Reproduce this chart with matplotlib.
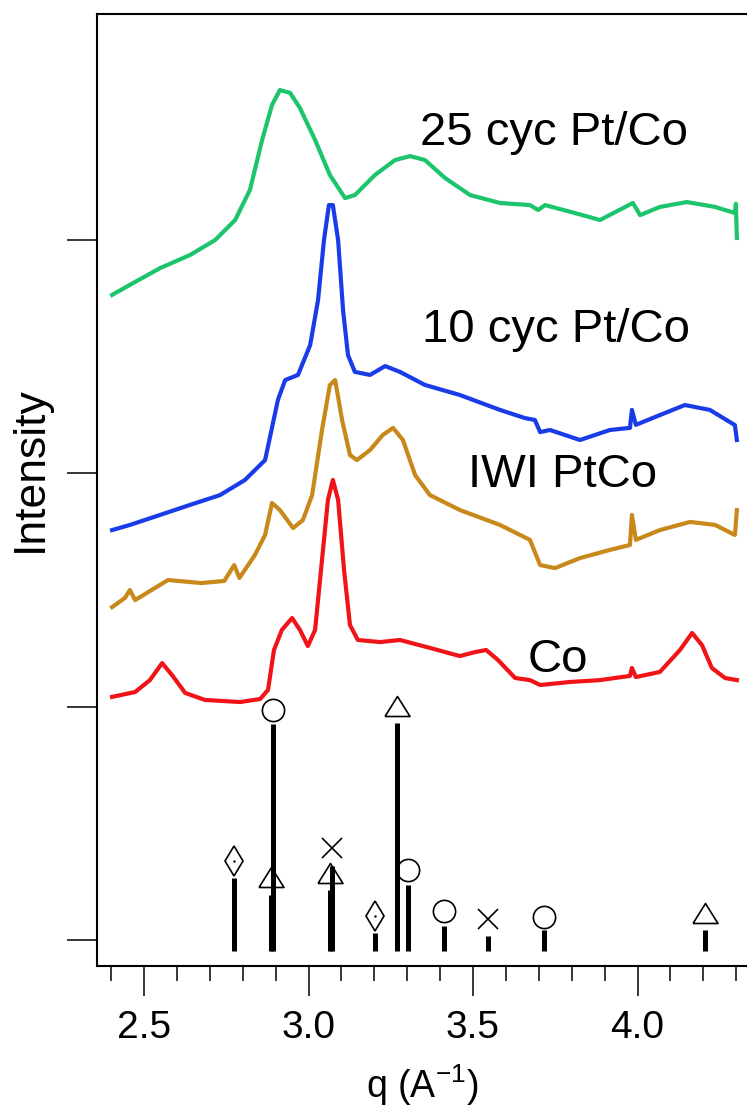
import matplotlib
matplotlib.use("Agg")
import matplotlib.pyplot as plt
from matplotlib.ticker import MultipleLocator, FormatStrFormatter

plt.rcParams['font.family'] = ['Liberation Sans', 'DejaVu Sans']
plt.rcParams['mathtext.fontset'] = 'custom'
plt.rcParams['mathtext.rm'] = 'Liberation Sans'
plt.rcParams['mathtext.it'] = 'Liberation Sans:italic'

# Diffraction curves (q in 1/A, intensity in offset units)
q_25 = [2.403, 2.457, 2.549, 2.640, 2.716, 2.777, 2.822, 2.859, 2.889, 2.913,
        2.944, 2.974, 3.020, 3.065, 3.111, 3.141, 3.202, 3.263, 3.309, 3.354,
        3.415, 3.491, 3.582, 3.673, 3.698, 3.719, 3.825, 3.886, 3.986, 4.008,
        4.068, 4.150, 4.236, 4.296, 4.299, 4.302]
i_25 = [2.765, 2.808, 2.880, 2.936, 3.000, 3.086, 3.215, 3.429, 3.579, 3.643,
        3.631, 3.566, 3.429, 3.279, 3.180, 3.193, 3.279, 3.343, 3.360, 3.343,
        3.266, 3.193, 3.159, 3.150, 3.129, 3.150, 3.110, 3.086, 3.159, 3.107,
        3.142, 3.163, 3.142, 3.116, 3.155, 3.009]

q_10 = [2.403, 2.457, 2.549, 2.640, 2.731, 2.807, 2.868, 2.907, 2.929, 2.968,
        3.005, 3.029, 3.047, 3.062, 3.074, 3.090, 3.105, 3.120, 3.141, 3.187,
        3.233, 3.278, 3.354, 3.460, 3.582, 3.658, 3.688, 3.704, 3.734, 3.825,
        3.916, 3.977, 3.983, 3.995, 4.068, 4.144, 4.220, 4.296, 4.302]
i_10 = [1.757, 1.779, 1.822, 1.865, 1.907, 1.972, 2.057, 2.315, 2.400, 2.422,
        2.550, 2.743, 3.000, 3.150, 3.150, 3.000, 2.700, 2.507, 2.435, 2.422,
        2.460, 2.435, 2.379, 2.336, 2.272, 2.237, 2.229, 2.177, 2.186, 2.143,
        2.186, 2.195, 2.272, 2.208, 2.250, 2.293, 2.272, 2.207, 2.143]

q_iwi = [2.403, 2.442, 2.457, 2.473, 2.573, 2.674, 2.744, 2.774, 2.790, 2.837,
         2.868, 2.889, 2.913, 2.953, 2.983, 3.011, 3.041, 3.065, 3.081, 3.102,
         3.126, 3.147, 3.187, 3.226, 3.257, 3.287, 3.324, 3.369, 3.460, 3.582,
         3.673, 3.704, 3.749, 3.825, 3.916, 3.977, 3.983, 3.995, 4.068, 4.160,
         4.236, 4.296, 4.302]
i_iwi = [1.427, 1.466, 1.500, 1.457, 1.543, 1.530, 1.539, 1.607, 1.552, 1.650,
         1.736, 1.873, 1.843, 1.766, 1.800, 1.907, 2.186, 2.379, 2.400, 2.229,
         2.079, 2.057, 2.100, 2.165, 2.195, 2.143, 1.993, 1.907, 1.843, 1.779,
         1.715, 1.607, 1.594, 1.637, 1.672, 1.693, 1.822, 1.715, 1.757, 1.792,
         1.779, 1.736, 1.843]

q_co = [2.403, 2.473, 2.518, 2.555, 2.585, 2.625, 2.685, 2.792, 2.853, 2.877,
        2.895, 2.919, 2.950, 2.974, 2.998, 3.020, 3.041, 3.059, 3.074, 3.090,
        3.108, 3.126, 3.150, 3.217, 3.278, 3.369, 3.460, 3.506, 3.540, 3.576,
        3.628, 3.673, 3.704, 3.795, 3.886, 3.977, 3.983, 3.995, 4.068, 4.129,
        4.166, 4.196, 4.226, 4.266, 4.302]
i_co = [1.042, 1.063, 1.114, 1.187, 1.136, 1.059, 1.029, 1.020, 1.033, 1.072,
        1.243, 1.329, 1.380, 1.329, 1.260, 1.329, 1.629, 1.886, 1.972, 1.886,
        1.586, 1.350, 1.286, 1.277, 1.286, 1.252, 1.217, 1.234, 1.243, 1.200,
        1.123, 1.114, 1.093, 1.106, 1.114, 1.132, 1.166, 1.127, 1.149, 1.243,
        1.316, 1.264, 1.166, 1.123, 1.114]

labels = ['25 cyc Pt/Co', '10 cyc Pt/Co', 'IWI PtCo', 'Co']
label_q = [3.339, 3.345, 3.485, 3.667]
label_y = [3.459, 2.615, 1.993, 1.200]

# Reference stick patterns: q, top of stick, marker height
stick_base = -0.047
circ_q = [2.892, 3.302, 3.412, 3.716]
circ_top = [0.926, 0.236, 0.060, 0.043]
circ_mark = [0.986, 0.300, 0.124, 0.099]
tri_q = [2.885, 3.065, 3.269, 4.205]
tri_top = [0.193, 0.214, 0.930, 0.043]
tri_mark = [0.270, 0.287, 1.003, 0.116]
cross_q = [3.071, 3.546]
cross_top = [0.317, 0.017]
cross_mark = [0.394, 0.090]
diam_q = [2.774, 3.202]
diam_top = [0.266, 0.030]
diam_mark = [0.339, 0.103]

fig = plt.figure(figsize=(7.47, 11.12), dpi=100)
ax = fig.add_axes([97 / 747, 146 / 1112, 650 / 747, 952 / 1112])

ax.plot(q_25, i_25, color='#1cc46c', lw=3)
ax.plot(q_10, i_10, color='#1a3ce8', lw=3)
ax.plot(q_iwi, i_iwi, color='#c8881a', lw=3)
ax.plot(q_co, i_co, color='#f01418', lw=3)

for s, x, y in zip(labels, label_q, label_y):
    ax.text(x, y, s, fontsize=34, ha='left', va='center')

# sticks
for qs, tops in [(circ_q, circ_top), (tri_q, tri_top),
                 (cross_q, cross_top), (diam_q, diam_top)]:
    ax.vlines(qs, stick_base, tops, colors='k', lw=3.6)

tri_marker = [(-1, -0.8), (1, -0.8), (0, 0.8), (-1, -0.8)]
mk = dict(ls='none', mfc='none', mec='k', mew=1.2)
ax.plot(circ_q, circ_mark, marker='o', ms=16, **mk)
ax.plot(tri_q, tri_mark, marker=tri_marker, ms=18, **mk)
ax.plot(cross_q, cross_mark, marker='x', ms=15, **mk)
ax.plot(diam_q, diam_mark, marker='d', ms=15, **mk)
ax.plot(diam_q, diam_mark, ls='none', marker='.', ms=1.5, color='k')

ax.set_xlim(2.3571, 4.3328)
ax.set_ylim(-0.1114, 3.969)
ax.xaxis.set_major_locator(MultipleLocator(0.5))
ax.xaxis.set_minor_locator(MultipleLocator(0.1))
ax.xaxis.set_major_formatter(FormatStrFormatter('%.1f'))
ax.set_yticks([0, 1, 2, 3])
ax.set_yticklabels([])
ax.tick_params(axis='both', which='major', direction='out', length=21.6,
               width=1.1, labelsize=28, pad=10)
ax.tick_params(axis='x', which='minor', direction='out', length=10.8, width=1.1)
ax.spines['right'].set_visible(False)
for sp in ['left', 'top', 'bottom']:
    ax.spines[sp].set_linewidth(1.5)

fig.text(422 / 747, 1 - 1098 / 1112, 'q (A$^{-1}$)', fontsize=27,
         ha='center', va='baseline')
fig.text(30 / 747, 1 - 469 / 1112, 'Intensity', fontsize=32,
         rotation=90, ha='center', va='center')

fig.savefig('out.png', dpi=100)
